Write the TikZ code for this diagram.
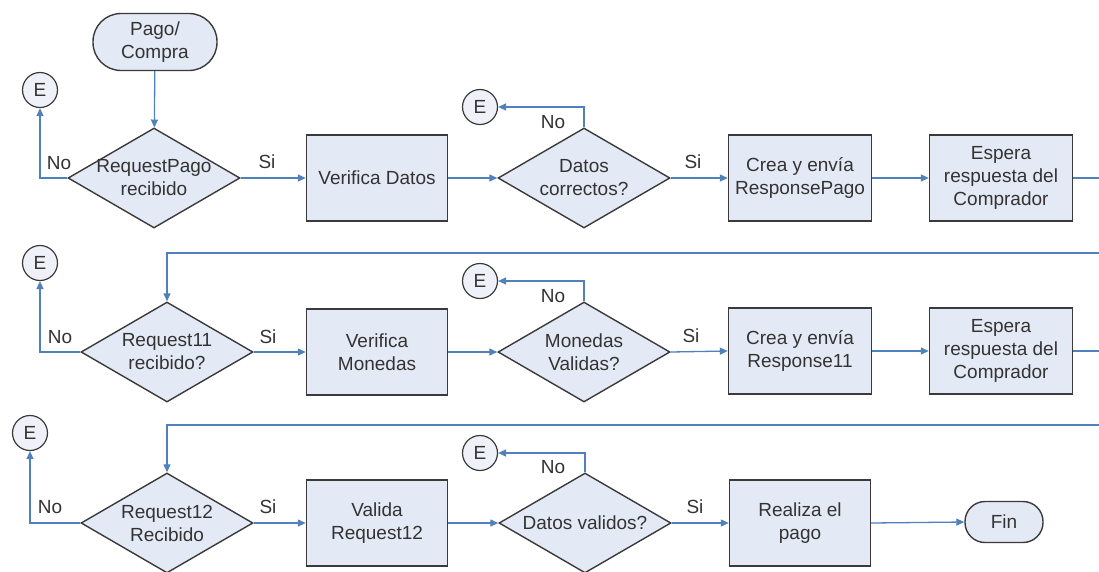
\documentclass[tikz,border=0pt]{standalone}
\usepackage{fontspec}
\setmainfont{Liberation Sans}
\usetikzlibrary{shapes.geometric,arrows.meta}

\definecolor{boxfill}{RGB}{228,234,245}
\definecolor{circfill}{RGB}{238,241,247}
\definecolor{boxline}{RGB}{58,58,58}
\definecolor{flowblue}{RGB}{79,129,189}
\definecolor{txt}{RGB}{51,51,51}

\tikzset{
  base/.style={draw=boxline, fill=boxfill, line width=1.4pt, text=txt,
    align=center, font=\fontsize{19}{23}\selectfont},
  procbox/.style={base, rectangle, minimum width=143pt, minimum height=86pt, inner sep=2pt},
  decision/.style={base, diamond, minimum width=172pt, minimum height=100pt, inner sep=0pt,
    label={[text=txt, align=center, font=\fontsize{19}{23}\selectfont]center:#1}},
  terminal/.style={base, rectangle, inner sep=0pt},
  endpt/.style={base, circle, fill=circfill, minimum size=35pt, inner sep=0pt, line width=1.2pt},
  flow/.style={draw=flowblue, line width=1.3pt, -{Triangle[length=8pt,width=7pt]}},
  lbl/.style={text=txt, font=\fontsize{19}{23}\selectfont, inner sep=0pt}
}

\begin{document}
\begin{tikzpicture}[x=1pt,y=-1pt]
\useasboundingbox (0,0) rectangle (1099,571);
\clip (0,0) rectangle (1099,571);
\fill[white] (0,0) rectangle (1099,571);

% ---- first row: payment request ----
\node[terminal, minimum width=124pt, minimum height=57pt, rounded corners=28pt] (pago) at (155,42) {Pago/\\Compra};
\node[decision={RequestPago\\recibido}] (d1) at (154,178) {};
\node[endpt] (e1) at (40,90) {E};
\node[procbox, minimum width=141pt] (v1) at (377,178) {Verifica Datos};
\node[decision={Datos\\correctos?}] (d2) at (584,178) {};
\node[endpt] (e2) at (480,107) {E};
\node[procbox] (c1) at (800,178) {Crea y envía\\ResponsePago};
\node[procbox] (w1) at (1001,178) {Espera\\respuesta del\\Comprador};
\coordinate (r1a) at (1115,178);
\coordinate (r1b) at (1115,253);

% ---- second row: Request11 ----
\node[decision={Request11\\recibido?}] (d3) at (167,352) {};
\node[endpt] (e3) at (40,263) {E};
\node[procbox, minimum width=141pt] (v2) at (377,352) {Verifica\\Monedas};
\node[decision={Monedas\\Validas?}] (d4) at (584,352) {};
\node[endpt] (e4) at (480,281) {E};
\node[procbox] (c2) at (800,351) {Crea y envía\\Response11};
\node[procbox] (w2) at (1001,351) {Espera\\respuesta del\\Comprador};
\coordinate (r2a) at (1115,351);
\coordinate (r2b) at (1115,425);

% ---- third row: Request12 ----
\node[decision={Request12\\Recibido}] (d5) at (167,523) {};
\node[endpt] (e5) at (30,433) {E};
\node[procbox, minimum width=141pt] (v3) at (377,523) {Valida\\Request12};
\node[decision={Datos validos?}] (d6) at (585,523) {};
\node[endpt] (e6) at (480,453) {E};
\node[procbox, minimum width=141pt] (c3) at (800,523) {Realiza el\\pago};
\node[terminal, minimum width=78pt, minimum height=41pt, rounded corners=20pt] (fin) at (1004,522) {Fin};

% ---- connectors ----
\draw[flow] (pago) -- (d1);
\draw[flow] (d1.west) -| (e1.south);
\draw[flow] (d1.east) -- (v1.west);
\draw[flow] (v1.east) -- (d2.west);
\draw[flow] (d2.north) |- (e2.east);
\draw[flow] (d2.east) -- (c1.west);
\draw[flow] (c1.east) -- (w1.west);
\draw[flow] (w1.east) -- (r1a) -- (r1b) -| (d3.north);

\draw[flow] (d3.west) -| (e3.south);
\draw[flow] (d3.east) -- (v2.west);
\draw[flow] (v2.east) -- (d4.west);
\draw[flow] (d4.north) |- (e4.east);
\draw[flow] (d4.east) -- (c2.west);
\draw[flow] (c2.east) -- (w2.west);
\draw[flow] (w2.east) -- (r2a) -- (r2b) -| (d5.north);

\draw[flow] (d5.west) -| (e5.south);
\draw[flow] (d5.east) -- (v3.west);
\draw[flow] (v3.east) -- (d6.west);
\draw[flow] (d6.north) |- (e6.east);
\draw[flow] (d6.east) -- (c3.west);
\draw[flow] (c3.east) -- (fin.west);

% ---- branch labels ----
\node[lbl] (n1) at (59,163) {No};
\node[lbl] (s1) at (267,162) {Si};
\node[lbl] (n2) at (553,122) {No};
\node[lbl] (s2) at (693,162) {Si};
\node[lbl] (n3) at (60,337) {No};
\node[lbl] (s3) at (268,337) {Si};
\node[lbl] (n4) at (553,296) {No};
\node[lbl] (s4) at (691,336) {Si};
\node[lbl] (n5) at (50,507) {No};
\node[lbl] (s5) at (268,507) {Si};
\node[lbl] (n6) at (553,467) {No};
\node[lbl] (s6) at (695,507) {Si};
\end{tikzpicture}
\end{document}
